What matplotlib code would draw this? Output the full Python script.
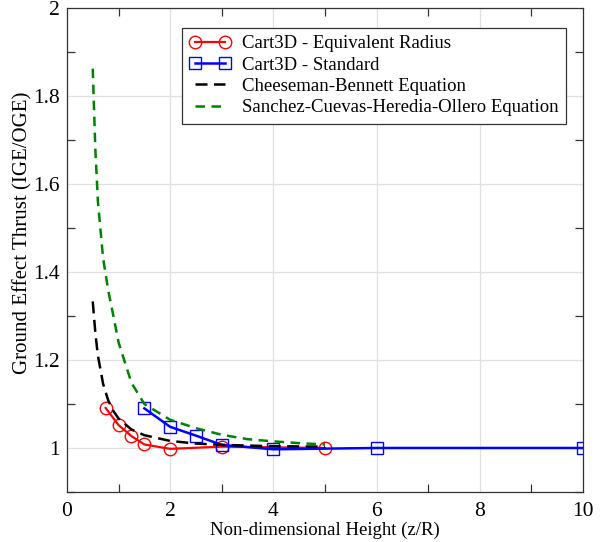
import matplotlib
matplotlib.use('Agg')
import matplotlib.pyplot as plt
from matplotlib.ticker import MultipleLocator

# Cart3D results
eq_radius_x = [0.75, 1.0, 1.25, 1.5, 2.0, 3.0, 5.0]
eq_radius_y = [1.091, 1.052, 1.027, 1.008, 0.998, 1.003, 1.000]

standard_x = [1.5, 2.0, 2.5, 3.0, 4.0, 6.0, 10.0]
standard_y = [1.090, 1.048, 1.028, 1.007, 0.997, 1.000, 1.000]

# Analytical curves
cb_x = [0.5, 0.55, 0.6, 0.7, 0.8, 0.9, 1.0, 1.25, 1.5, 2.0, 2.5, 3.0, 4.0, 5.0]
cb_y = [1.333, 1.262, 1.210, 1.146, 1.108, 1.084, 1.067, 1.042, 1.029, 1.016, 1.010, 1.007, 1.004, 1.003]

sc_x = [0.5, 0.55, 0.6, 0.7, 0.8, 0.9, 1.0, 1.25, 1.5, 2.0, 2.5, 3.0, 3.5, 4.0, 4.5, 5.0]
sc_y = [1.862, 1.680, 1.560, 1.432, 1.358, 1.300, 1.240, 1.148, 1.100, 1.064, 1.045, 1.030, 1.020, 1.015, 1.011, 1.008]

plt.rcParams['font.family'] = ['Liberation Serif', 'DejaVu Serif']
plt.rcParams['font.size'] = 14

fig = plt.figure(figsize=(6.03, 5.42), dpi=100)
ax = fig.add_axes([0.111, 0.0923, 0.856, 0.893])

ax.plot(eq_radius_x, eq_radius_y, '-o', color='red', lw=1.6, markersize=9,
        markerfacecolor='none', markeredgewidth=1.0, label='Cart3D - Equivalent Radius')
ax.plot(standard_x, standard_y, '-s', color='blue', lw=1.8, markersize=8.5,
        markerfacecolor='none', markeredgewidth=1.0, label='Cart3D - Standard')
ax.plot(cb_x, cb_y, color='black', lw=1.8, dashes=(4.8, 2.6),
        label='Cheeseman-Bennett Equation')
ax.plot(sc_x, sc_y, color='#008000', lw=1.8, dashes=(3.8, 2.6),
        label='Sanchez-Cuevas-Heredia-Ollero Equation')

ax.set_xlim(0, 10)
ax.set_ylim(0.9, 2.0)
ax.xaxis.set_minor_locator(MultipleLocator(1))
ax.yaxis.set_minor_locator(MultipleLocator(0.1))
ax.set_yticks([1.0, 1.2, 1.4, 1.6, 1.8, 2.0])
ax.set_yticklabels(['1', '1.2', '1.4', '1.6', '1.8', '2'])
ax.set_xticks([0, 2, 4, 6, 8, 10])
ax.set_xticklabels(['0', '2', '4', '6', '8', '10'])

ax.grid(True, which='major', color='#e0e0e0', lw=0.9)
ax.set_axisbelow(True)
ax.tick_params(which='both', direction='in', top=True, right=True)
ax.tick_params(which='major', length=0, labelsize=15.5)
ax.tick_params(axis='y', which='major', pad=5)
ax.tick_params(axis='x', which='major', pad=7)
ax.tick_params(which='minor', length=6, width=0.9, color='#333333')
for s in ax.spines.values():
    s.set_color('#333333')
    s.set_linewidth(0.9)

ax.set_xlabel('Non-dimensional Height (z/R)', fontsize=13.5, labelpad=1)
ax.set_ylabel('Ground Effect Thrust (IGE/OGE)', fontsize=15)
ax.yaxis.set_label_coords(-0.066, 0.535)

leg = ax.legend(loc='upper right', bbox_to_anchor=(0.967, 0.959), borderaxespad=0,
                fancybox=False, edgecolor='#333333', framealpha=1, handlelength=2.2,
                numpoints=2, fontsize=13.5, labelspacing=0.22, borderpad=0.4,
                handletextpad=0.6)
leg.get_frame().set_linewidth(0.9)

fig.savefig('out.png', dpi=100)
